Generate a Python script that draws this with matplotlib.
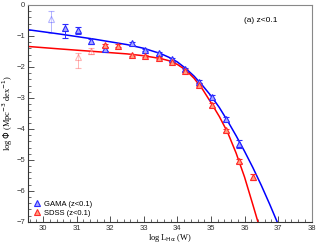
import matplotlib
matplotlib.use("Agg")
import matplotlib.pyplot as plt
from matplotlib.ticker import MultipleLocator

# GAMA (z<0.1) binned LF
gama_x = [30.24, 30.64, 31.04, 31.44, 31.84, 32.64, 33.04, 33.44, 33.84,
          34.24, 34.64, 35.04, 35.44, 35.84]
gama_y = [-0.45, -0.75, -0.82, -1.17, -1.42, -1.24, -1.45, -1.56, -1.75,
          -2.08, -2.48, -2.98, -3.68, -4.49]
gama_up = [0.25, 0.13, 0.10, 0.06, 0.05, 0.05, 0.04, 0.04, 0.04,
           0.05, 0.05, 0.06, 0.08, 0.12]
gama_lo = [0.47, 0.32, 0.12, 0.10, 0.06, 0.05, 0.04, 0.04, 0.04,
           0.05, 0.05, 0.06, 0.08, 0.12]
gama_faded = [True] + [False] * 13

# SDSS (z<0.1) binned LF
sdss_x = [31.04, 31.44, 31.84, 32.24, 32.64, 33.04, 33.44, 33.84, 34.24,
          34.64, 35.04, 35.44, 35.84, 36.24]
sdss_y = [-1.68, -1.48, -1.30, -1.31, -1.61, -1.65, -1.72, -1.84, -2.12,
          -2.58, -3.23, -4.05, -5.03, -5.55]
sdss_up = [0.14, 0.08, 0.05, 0.04, 0.04, 0.04, 0.04, 0.04, 0.04,
           0.05, 0.05, 0.06, 0.07, 0.10]
sdss_lo = [0.36, 0.10, 0.05, 0.04, 0.04, 0.04, 0.04, 0.04, 0.04,
           0.05, 0.05, 0.06, 0.07, 0.10]
sdss_faded = [True, True] + [False] * 12

# fitted curves
gama_fit_x = [29.55, 30.5, 31.5, 32.5, 33.0, 33.5, 33.75, 34.0, 34.25, 34.5,
              34.75, 35.0, 35.25, 35.5, 35.75, 36.0, 36.25, 36.5, 36.75, 37.0]
gama_fit_y = [-0.80, -0.94, -1.10, -1.28, -1.40, -1.57, -1.69, -1.84, -2.05,
              -2.30, -2.60, -2.93, -3.31, -3.75, -4.22, -4.72, -5.25, -5.82,
              -6.43, -7.07]
sdss_fit_x = [29.55, 30.5, 31.5, 32.5, 33.0, 33.5, 33.75, 34.0, 34.25, 34.5,
              34.75, 35.0, 35.25, 35.5, 35.75, 36.0, 36.25, 36.4]
sdss_fit_y = [-1.34, -1.42, -1.50, -1.58, -1.64, -1.73, -1.80, -1.92, -2.10,
              -2.37, -2.72, -3.15, -3.60, -4.12, -4.78, -5.55, -6.45, -7.00]

BLUE_EDGE, BLUE_FILL = "#2a2aff", "#a8a8ff"
RED_EDGE, RED_FILL = "#ff2a2a", "#ffa080"

fig = plt.figure(figsize=(3.18, 2.46), dpi=100)
ax = fig.add_axes([0.088, 0.098, 0.892, 0.882])

ax.plot(gama_fit_x, gama_fit_y, color="#0000ff", lw=1.1, zorder=2)
ax.plot(sdss_fit_x, sdss_fit_y, color="#ff0000", lw=1.1, zorder=2)


def draw_points(xs, ys, lo, up, faded, edge, fill):
    for x, y, l, u, f in zip(xs, ys, lo, up, faded):
        a = 0.35 if f else 1.0
        mfc = "white" if f else fill
        ax.errorbar([x], [y], yerr=[[l], [u]], fmt="^", ms=4.6, mew=0.8,
                    mec=edge, mfc=mfc, ecolor=edge, elinewidth=0.7,
                    capsize=2.2, capthick=0.7, alpha=a, zorder=3)


draw_points(gama_x, gama_y, gama_lo, gama_up, gama_faded, BLUE_EDGE, BLUE_FILL)
draw_points(sdss_x, sdss_y, sdss_lo, sdss_up, sdss_faded, RED_EDGE, RED_FILL)

ax.set_xlim(29.55, 38)
ax.set_ylim(-7, 0)
ax.xaxis.set_major_locator(MultipleLocator(1))
ax.xaxis.set_minor_locator(MultipleLocator(0.2))
ax.yaxis.set_major_locator(MultipleLocator(1))
ax.yaxis.set_minor_locator(MultipleLocator(0.2))
ax.tick_params(which="both", direction="in", labelsize=5.5, pad=2,
               colors="#333333", labelcolor="#333333")
ax.tick_params(which="major", length=4, width=0.6)
ax.tick_params(which="minor", length=2, width=0.5)
for lab in ax.get_xticklabels() + ax.get_yticklabels():
    lab.set_family("Liberation Sans")
for s in ax.spines.values():
    s.set_color("#888888")
    s.set_linewidth(0.8)
ax.spines["left"].set_color("#333333")
ax.spines["bottom"].set_color("#333333")

ax.set_xlabel(r"log L$_{\rm H\alpha}$ (W)", fontsize=6, family="Liberation Serif",
              labelpad=0)
ax.set_ylabel(r"log $\Phi$ (Mpc$^{-3}$ dex$^{-1}$)", fontsize=6,
              family="Liberation Serif", labelpad=1)
ax.text(0.82, 0.93, "(a) z<0.1", transform=ax.transAxes, fontsize=6,
        family="Liberation Sans", ha="center", va="center")

# legend
hg = ax.errorbar([], [], fmt="^", ms=4.6, mew=0.8, mec=BLUE_EDGE, mfc=BLUE_FILL)
hs = ax.errorbar([], [], fmt="^", ms=4.6, mew=0.8, mec=RED_EDGE, mfc=RED_FILL)
ax.legend([hg, hs], ["GAMA (z<0.1)", "SDSS (z<0.1)"], loc="lower left",
          frameon=False, handlelength=1.0, handletextpad=0.4,
          labelspacing=0.2, borderaxespad=0.3,
          prop={"family": "Liberation Sans", "size": 5.5})

fig.savefig("out.png", dpi=100)
